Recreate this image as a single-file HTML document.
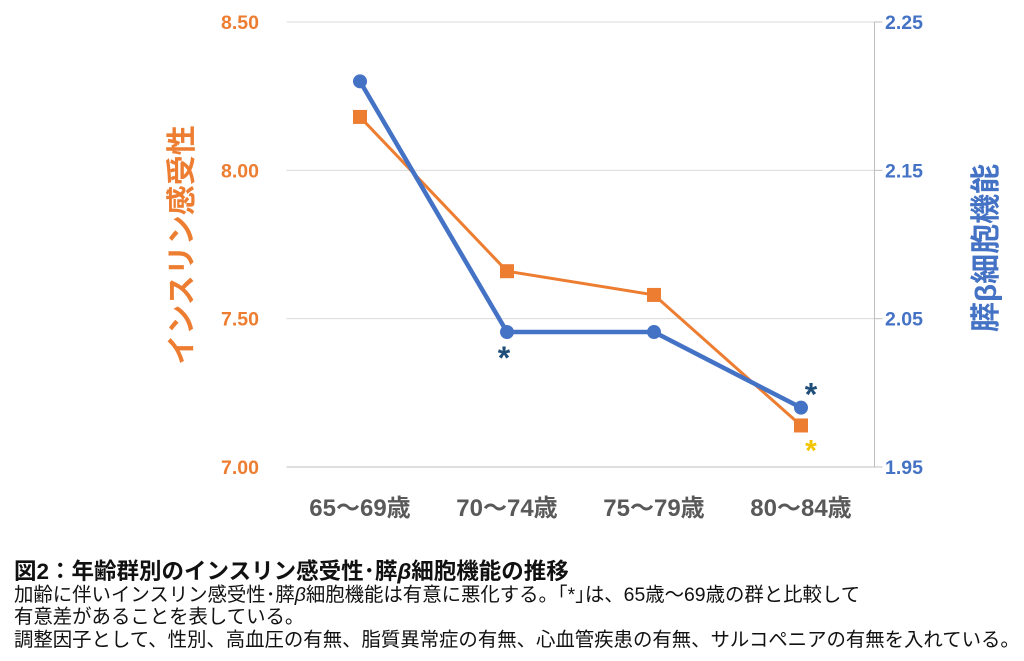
<!DOCTYPE html>
<html><head><meta charset="utf-8">
<style>
body{margin:0;background:#fff;width:1024px;height:661px;overflow:hidden;font-family:"Liberation Sans","Noto Sans CJK JP",sans-serif;}
svg{position:absolute;left:0;top:0}
.cap{position:absolute;left:14px;color:#111;white-space:nowrap;line-height:1}
</style></head>
<body>
<svg width="1024" height="661" id="chart"></svg>
<div class="cap" style="top:561px;font-size:22.5px;font-weight:bold;">図2：年齢群別のインスリン感受性･膵<i>β</i>細胞機能の推移</div>
<div class="cap" style="top:586px;font-size:19.4px;">加齢に伴いインスリン感受性･膵<i>β</i>細胞機能は有意に悪化する。｢*｣は、65歳～69歳の群と比較して</div>
<div class="cap" style="top:608px;font-size:19.4px;">有意差があることを表している。</div>
<div class="cap" style="top:631px;font-size:19.4px;">調整因子として、性別、高血圧の有無、脂質異常症の有無、心血管疾患の有無、サルコペニアの有無を入れている。</div>
<script>
const categories=["65～69歳","70～74歳","75～79歳","80～84歳"];
const insulinValues=[8.18,7.66,7.58,7.14];
const betaValues=[2.21,2.041,2.041,1.99];
const leftTicks=[7.00,7.50,8.00,8.50];
const rightTicks=[1.95,2.05,2.15,2.25];
const insulinSig=[false,false,false,true];
const betaSig=[false,true,false,true];
const NS="http://www.w3.org/2000/svg";
const svg=document.getElementById('chart');
const L=286.5,R=874.5,T=22,B=467;
const xs=i=>L+(R-L)*(i+0.5)/categories.length;
const yl=v=>B-(v-7.0)/1.5*(B-T);
const yr=v=>B-(v-1.95)/0.3*(B-T);
function el(tag,attrs,text){const e=document.createElementNS(NS,tag);for(const k in attrs)e.setAttribute(k,attrs[k]);if(text!==undefined)e.textContent=text;svg.appendChild(e);return e;}
leftTicks.forEach((v,i)=>{
 const g=el('line',{x1:L,x2:R,y1:yl(v),y2:yl(v),stroke:'#d9d9d9','stroke-width':1});
 
 
 const t=el('text',{x:259,y:yl(v)+7,'text-anchor':'end','font-size':19.5,'font-weight':'bold',fill:'#ed7d31'},v.toFixed(2));
 
 
});
rightTicks.forEach(v=>{
 const t=el('text',{x:885,y:yr(v)+7,'font-size':19.5,'font-weight':'bold',fill:'#4472c4'},v.toFixed(2));
 
 
 const tk=el('line',{x1:R,x2:R+8,y1:yr(v),y2:yr(v),stroke:'#bfbfbf'});
 
 
});
const ax=el('line',{x1:R,x2:R,y1:T,y2:B,stroke:'#bfbfbf','stroke-width':1});


const bx=el('line',{x1:L,x2:R,y1:B,y2:B,stroke:'#bfbfbf','stroke-width':1});


categories.forEach((c,i)=>{
 const t=el('text',{x:xs(i),y:516,'text-anchor':'middle','font-size':24,'font-weight':'bold',fill:'#595959'},c);
 
 
});
const lt=el('text',{transform:'translate(192,245) rotate(-90)','text-anchor':'middle','font-size':30,'font-weight':'bold',fill:'#ed7d31'},'インスリン感受性');


const rt=el('text',{transform:'translate(996,248) rotate(-90)','text-anchor':'middle','font-size':30,'font-weight':'bold',fill:'#4472c4'},'膵β細胞機能');


const op=el('polyline',{points:insulinValues.map((v,i)=>xs(i)+','+yl(v)).join(' '),fill:'none',stroke:'#ed7d31','stroke-width':3});


const bp=el('polyline',{points:betaValues.map((v,i)=>xs(i)+','+yr(v)).join(' '),fill:'none',stroke:'#4472c4','stroke-width':4.5});


insulinValues.forEach((v,i)=>{
 const m=el('rect',{x:xs(i)-7,y:yl(v)-7,width:14,height:14,fill:'#ed7d31'});
 
 
 if(insulinSig[i]){const s=el('text',{x:xs(i)+10,y:yl(v)+35,'text-anchor':'middle','font-size':30,'font-weight':'bold',fill:'#f2c500'},'*');
 
 }
});
betaValues.forEach((v,i)=>{
 const m=el('circle',{cx:xs(i),cy:yr(v),r:7,fill:'#4472c4'});
 
 
 if(betaSig[i]){const dx=i===3?10:-3,dy=i===3?-2:37;const s=el('text',{x:xs(i)+dx,y:yr(v)+dy,'text-anchor':'middle','font-size':32,'font-weight':'bold',fill:'#1f4e79'},'*');
 
 }
});
</script>
</body></html>
